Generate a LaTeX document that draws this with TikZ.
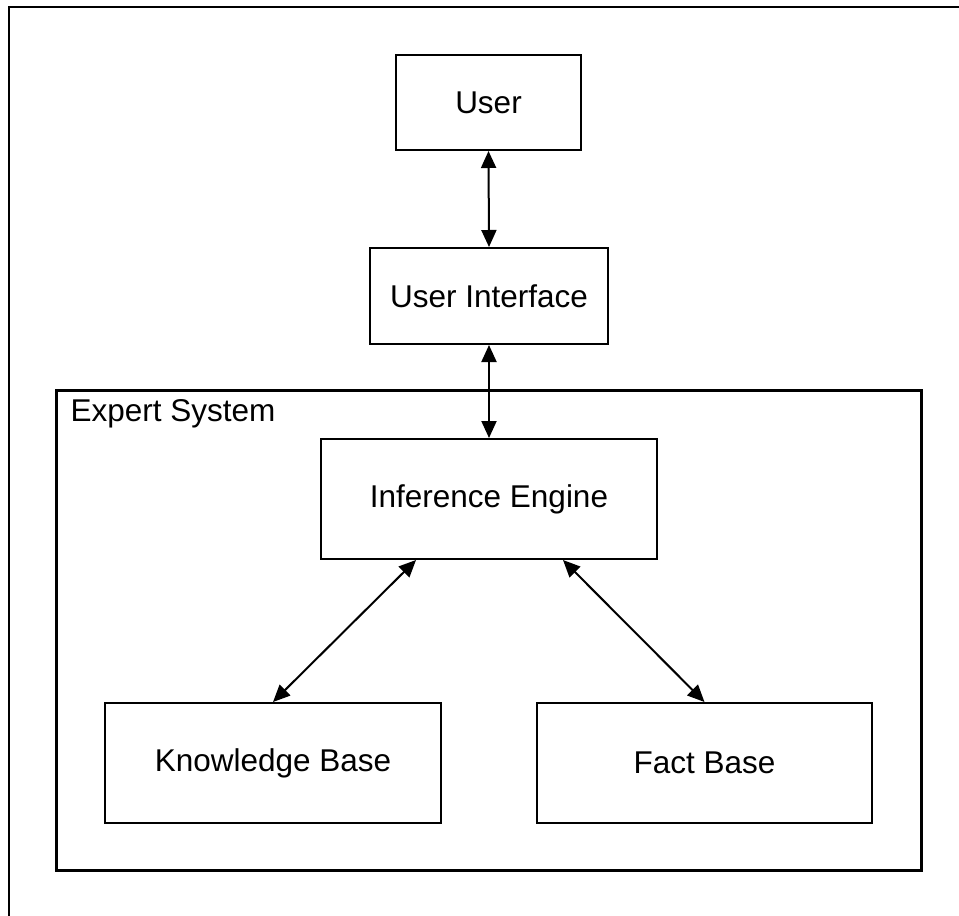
\documentclass[tikz,border=0pt]{standalone}
\usepackage{fontspec}
\setmainfont{Liberation Sans}
\usetikzlibrary{arrows.meta,calc}
\begin{document}
\begin{tikzpicture}[x=1pt,y=-1pt,
  block/.style={draw=black,line width=2pt,inner sep=0pt,fill=white,
    font=\fontsize{31.5pt}{38pt}\selectfont},
  link/.style={line width=2pt,{Triangle[length=17pt,width=15pt]}-{Triangle[length=17pt,width=15pt]}},
  frameline/.style={line width=2.6pt},
  groupbox/.style={draw=black,line width=3pt}]
  \useasboundingbox (0,0) rectangle (959,916);
  % page frame, only its top and left sides fall inside the page
  \draw[frameline] (9,916) -- (9,7) -- (959,7);
  % expert system group
  \draw[groupbox] (56,390) rectangle (921,870);
  \node[anchor=base west,font=\fontsize{31.5pt}{38pt}\selectfont] (es) at (67,421.5) {Expert System};
  % blocks
  \node[block,minimum width=185pt,minimum height=95pt] (user) at (488.5,102.5) {User};
  \node[block,minimum width=238pt,minimum height=96pt] (ui) at (489,296) {User Interface};
  \node[block,minimum width=336pt,minimum height=120pt] (ie) at (489,499) {Inference Engine};
  \node[block,minimum width=336pt,minimum height=120pt] (kb) at (273,763) {Knowledge Base};
  \node[block,minimum width=335pt,minimum height=120pt] (fb) at (704.5,763) {Fact Base};
  % connectors
  \coordinate (ieL) at ($(ie.south west)+(96,0)$);
  \coordinate (ieR) at ($(ie.south east)+(-95,0)$);
  \draw[link] (user.south) -- (ui.north);
  \draw[link] (ui.south) -- (ie.north);
  \draw[link] (ieL) -- (kb.north);
  \draw[link] (ieR) -- (fb.north);
\end{tikzpicture}
\end{document}
